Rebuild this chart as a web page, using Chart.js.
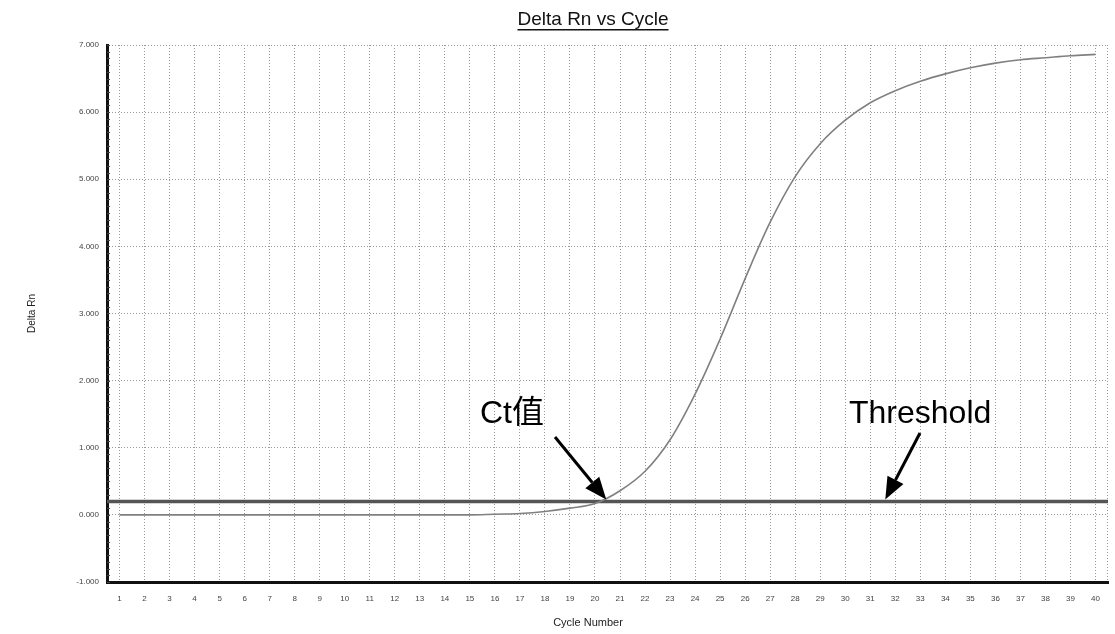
<!DOCTYPE html>
<html>
<head>
<meta charset="utf-8">
<script src="https://cdn.jsdelivr.net/npm/chart.js@4.4.0/dist/chart.umd.min.js"></script>
<style>
  html, body { margin: 0; padding: 0; background: #fff; }
  #wrap { width: 1115px; height: 634px; position: relative; }
</style>
</head>
<body>
<div id="wrap"><canvas id="chart"></canvas></div>
<script>
/* =========================
   DATA
========================= */

const cycles = ["1","2","3","4","5","6","7","8","9","10",
  "11","12","13","14","15","16","17","18","19","20",
  "21","22","23","24","25","26","27","28","29","30",
  "31","32","33","34","35","36","37","38","39","40"];

// delta Rn
const deltaRn = [0.0, 0.0, 0.0, 0.0, 0.0, 0.0, 0.0, 0.0, 0.0, 0.0,
  0.0, 0.0, 0.0, 0.0, 0.0, 0.01, 0.02, 0.05, 0.1, 0.17,
  0.36, 0.65, 1.12, 1.8, 2.62, 3.52, 4.36, 5.04, 5.53, 5.88,
  6.14, 6.32, 6.46, 6.57, 6.66, 6.73, 6.78, 6.81, 6.84, 6.86];

const threshold = 0.2;

const yTicks = [-1, 0, 1, 2, 3, 4, 5, 6, 7];

/* =========================
   PLUGIN: title, threshold, arrows, frame
========================= */

function arrow(ctx, x1, y1, x2, y2){
  const ang = Math.atan2(y2 - y1, x2 - x1);
  const hl = 22, hw = 9;
  const bx = x2 - hl * Math.cos(ang), by = y2 - hl * Math.sin(ang);
  ctx.strokeStyle = "#000";
  ctx.lineWidth = 3;
  ctx.beginPath();
  ctx.moveTo(x1, y1);
  ctx.lineTo(bx, by);
  ctx.stroke();
  ctx.fillStyle = "#000";
  ctx.beginPath();
  ctx.moveTo(x2, y2);
  ctx.lineTo(bx + hw * Math.sin(ang), by - hw * Math.cos(ang));
  ctx.lineTo(bx - hw * Math.sin(ang), by + hw * Math.cos(ang));
  ctx.closePath();
  ctx.fill();
}

const extras = {
  id: "extras",
  beforeDatasetsDraw(chart){
    const {ctx, chartArea: a, scales: {x, y}} = chart;
    ctx.save();
    // right frame (dotted)
    ctx.strokeStyle = "#999";
    ctx.lineWidth = 1;
    ctx.setLineDash([1, 2]);
    ctx.beginPath();
    ctx.moveTo(a.right - 0.5, a.top);
    ctx.lineTo(a.right - 0.5, a.bottom);
    ctx.stroke();
    ctx.setLineDash([]);
    // minor ticks on left axis
    ctx.strokeStyle = "#444";
    for(let v = y.min; v <= y.max + 1e-6; v += 0.1){
      const py = Math.round(y.getPixelForValue(v)) + 0.5;
      ctx.beginPath();
      ctx.moveTo(a.left, py);
      ctx.lineTo(a.left + 3, py);
      ctx.stroke();
    }
    // threshold line
    const ty = y.getPixelForValue(threshold);
    ctx.strokeStyle = "#555";
    ctx.lineWidth = 3.5;
    ctx.beginPath();
    ctx.moveTo(a.left, ty);
    ctx.lineTo(a.right, ty);
    ctx.stroke();
    ctx.restore();
  },
  afterDraw(chart){
    const {ctx, scales: {x, y}} = chart;
    ctx.save();
    // title, underlined
    ctx.fillStyle = "#111";
    ctx.font = "19px 'Liberation Sans', Arial, sans-serif";
    ctx.textAlign = "center";
    ctx.textBaseline = "alphabetic";
    const t = "Delta Rn vs Cycle";
    ctx.fillText(t, 593, 25);
    const w = ctx.measureText(t).width;
    ctx.fillRect(593 - w / 2, 29, w, 1.5);

    // x axis title
    ctx.fillStyle = "#222";
    ctx.font = "11px 'Liberation Sans', Arial, sans-serif";
    ctx.fillText("Cycle Number", 588, 626);

    // annotations
    const ty = y.getPixelForValue(threshold);
    const step = x.getPixelForValue(1) - x.getPixelForValue(0);
    ctx.font = "32px 'Liberation Sans', 'Noto Sans CJK SC', sans-serif";
    ctx.textAlign = "left";
    ctx.fillStyle = "#000";
    ctx.fillText("Ct值", 480, 423);
    ctx.fillText("Threshold", 849, 423);
    const ctX = x.getPixelForValue(19) + step * 0.45;
    arrow(ctx, 555, 437, ctX, ty - 2);
    const thX = x.getPixelForValue(30) + step * 0.6;
    arrow(ctx, 920, 433, thX, ty - 2);
    ctx.restore();
  }
};

/* =========================
   CHART
========================= */

const tickFont = {family: "'Liberation Sans', Arial, sans-serif", size: 8};

new Chart(document.getElementById("chart"), {
  type: "line",
  data: {
    labels: cycles,
    datasets: [{
      label: "Delta Rn",
      data: deltaRn,
      borderColor: "#808080",
      borderWidth: 1.6,
      pointRadius: 0,
      tension: 0.35,
      fill: false
    }]
  },
  options: {
    responsive: true,
    maintainAspectRatio: false,
    animation: false,
    devicePixelRatio: 1,
    layout: {padding: {top: 45, right: 7, left: 0, bottom: 0}},
    plugins: {
      legend: {display: false},
      tooltip: {enabled: false},
      title: {display: false}
    },
    scales: {
      x: {
        type: "category",
        offset: true,
        grid: {offset: false, color: "#999", lineWidth: 1, drawTicks: false},
        border: {display: true, color: "#111", width: 3, dash: [1, 2]},
        ticks: {color: "#444", font: tickFont, padding: 12, maxRotation: 0, autoSkip: false},
        title: {display: false},
        afterFit(s){ s.height = 52; }
      },
      y: {
        min: -1,
        max: 7,
        afterBuildTicks(s){ s.ticks = yTicks.map(v => ({value: v})); },
        grid: {color: "#999", lineWidth: 1, drawTicks: false},
        border: {display: true, color: "#111", width: 3, dash: [1, 2]},
        ticks: {color: "#444", font: tickFont, padding: 8,
          callback: v => v.toFixed(3)},
        title: {display: true, text: "Delta Rn", color: "#222",
          font: {family: "'Liberation Sans', Arial, sans-serif", size: 10}, padding: {top: 26, bottom: 0}},
        afterFit(s){ s.width = 107; }
      }
    }
  },
  plugins: [extras]
});
</script>
</body>
</html>
